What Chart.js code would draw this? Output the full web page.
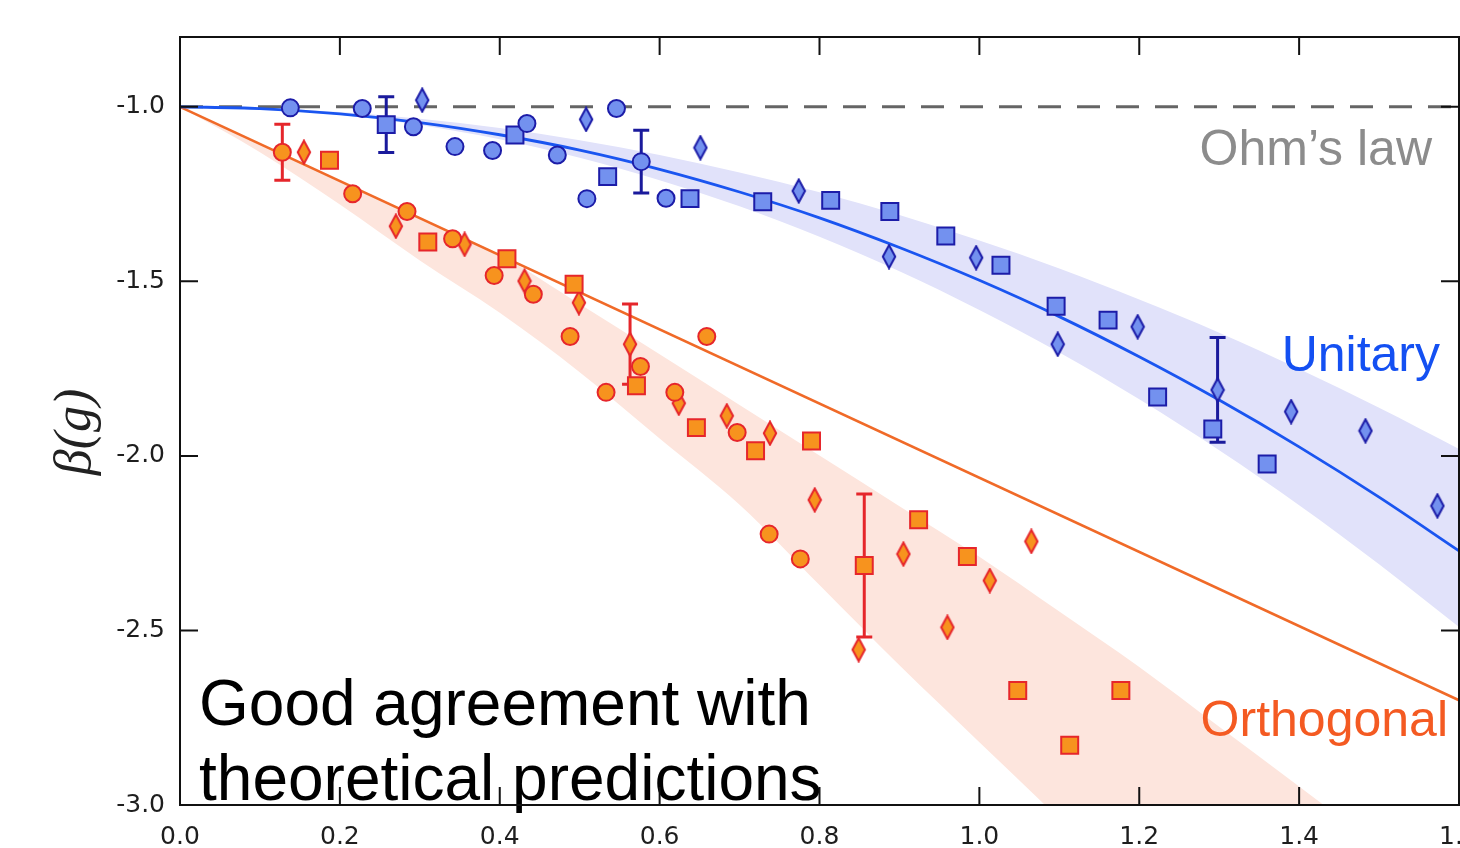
<!DOCTYPE html>
<html>
<head>
<meta charset="utf-8">
<title>β(g)</title>
<script src="https://cdn.jsdelivr.net/npm/chart.js@4.4.1/dist/chart.umd.min.js"></script>
<style>
  html, body { margin: 0; padding: 0; background: #fff; overflow: hidden; }
  #wrap { width: 1500px; height: 848px; }
</style>
</head>
<body>
<div id="wrap"><canvas id="betaChart" width="1500" height="848"></canvas></div>
<script>
// axis ticks
const xTicks = [0, 0.2, 0.4, 0.6, 0.8, 1.0, 1.2, 1.4, 1.6];
const xTickLabels = ['0.0', '0.2', '0.4', '0.6', '0.8', '1.0', '1.2', '1.4', '1.6'];
const yTicks = [-3.0, -2.5, -2.0, -1.5, -1.0];
const yTickLabels = ['-3.0', '-2.5', '-2.0', '-1.5', '-1.0'];

// measured points: [g, beta, error bar half-height]
const unitaryCircles = [
  [0.138, -1.003, 0], [0.228, -1.005, 0], [0.292, -1.057, 0], [0.344, -1.114, 0],
  [0.391, -1.125, 0], [0.434, -1.048, 0], [0.472, -1.138, 0], [0.509, -1.263, 0],
  [0.546, -1.005, 0], [0.577, -1.157, 0.09], [0.608, -1.262, 0]
];
const unitarySquares = [
  [0.258, -1.051, 0.08], [0.419, -1.081, 0], [0.535, -1.200, 0], [0.638, -1.263, 0],
  [0.729, -1.272, 0], [0.814, -1.268, 0], [0.888, -1.300, 0], [0.958, -1.370, 0],
  [1.027, -1.454, 0], [1.096, -1.571, 0], [1.161, -1.611, 0], [1.223, -1.831, 0],
  [1.292, -1.923, 0], [1.360, -2.023, 0]
];
const unitaryDiamonds = [
  [0.303, -0.981, 0], [0.508, -1.036, 0], [0.651, -1.117, 0], [0.774, -1.241, 0],
  [0.887, -1.429, 0], [0.996, -1.432, 0], [1.098, -1.680, 0], [1.198, -1.630, 0],
  [1.298, -1.811, 0.15], [1.390, -1.873, 0], [1.483, -1.928, 0], [1.573, -2.143, 0]
];
const orthoCircles = [
  [0.128, -1.130, 0.08], [0.216, -1.249, 0], [0.284, -1.300, 0], [0.341, -1.378, 0],
  [0.393, -1.483, 0], [0.442, -1.537, 0], [0.488, -1.658, 0], [0.533, -1.818, 0],
  [0.576, -1.744, 0], [0.619, -1.818, 0], [0.659, -1.658, 0], [0.697, -1.933, 0],
  [0.737, -2.224, 0], [0.776, -2.295, 0]
];
const orthoSquares = [
  [0.187, -1.153, 0], [0.310, -1.387, 0], [0.409, -1.435, 0], [0.493, -1.508, 0],
  [0.571, -1.799, 0], [0.646, -1.919, 0], [0.720, -1.985, 0], [0.790, -1.957, 0],
  [0.856, -2.314, 0.205], [0.924, -2.183, 0], [0.985, -2.288, 0], [1.048, -2.672, 0],
  [1.113, -2.829, 0], [1.177, -2.672, 0]
];
const orthoDiamonds = [
  [0.155, -1.130, 0], [0.270, -1.342, 0], [0.356, -1.394, 0], [0.431, -1.499, 0],
  [0.499, -1.561, 0], [0.563, -1.680, 0.115], [0.624, -1.849, 0], [0.684, -1.885, 0],
  [0.738, -1.935, 0], [0.794, -2.126, 0], [0.849, -2.555, 0], [0.905, -2.281, 0],
  [0.960, -2.491, 0], [1.013, -2.357, 0], [1.065, -2.245, 0]
];

// theory curves and their bands
const unitaryG = [0, 0.1, 0.2, 0.3, 0.4, 0.5, 0.6, 0.7, 0.8, 0.9, 1.0, 1.1, 1.2, 1.3, 1.4, 1.5, 1.6];
const unitaryFit = [-1.000, -1.005, -1.020, -1.045, -1.080, -1.124, -1.179, -1.244, -1.318,
  -1.403, -1.497, -1.601, -1.716, -1.840, -1.974, -2.118, -2.272];
const unitaryBandHi = [-1.000, -1.004, -1.015, -1.034, -1.061, -1.096, -1.138, -1.188, -1.245,
  -1.310, -1.383, -1.463, -1.552, -1.647, -1.751, -1.862, -1.980];
const unitaryBandLo = [-1.000, -1.006, -1.023, -1.052, -1.093, -1.146, -1.210, -1.285, -1.372,
  -1.471, -1.582, -1.704, -1.838, -1.984, -2.141, -2.310, -2.490];

const orthoLineG = [0, 1.6];
const orthoLine = [-1.0, -2.70];
const orthoBandG = [0, 0.1, 0.2, 0.3, 0.4, 0.5, 0.6, 0.7, 0.8, 0.9, 1.0, 1.1, 1.2, 1.3, 1.4, 1.5];
const orthoBandHi = [-1.000, -1.106, -1.212, -1.318, -1.424, -1.565, -1.709, -1.854, -1.999,
  -2.144, -2.289, -2.446, -2.605, -2.776, -2.947, -3.120];
const orthoBandLo = [-1.000, -1.130, -1.280, -1.440, -1.590, -1.760, -1.950, -2.140, -2.370,
  -2.600, -2.820, -3.040, -3.270, -3.500, -3.730, -3.960];

const ohmG = [0, 1.6];
const ohmBeta = [-1.0, -1.0];

const BLUE_FILL = '#7391ef', BLUE_EDGE = '#1c1ca8';
const ORANGE_FILL = '#f7931e', ORANGE_EDGE = '#e6262b';

const pts = arr => arr.map(p => ({ x: p[0], y: p[1], err: p[2] }));
const curve = (gs, bs) => gs.map((g, i) => ({ x: g, y: bs[i] }));

// tall narrow diamond marker
function diamond(fill, edge) {
  const c = document.createElement('canvas');
  c.width = 16; c.height = 26;
  const g = c.getContext('2d');
  g.beginPath();
  g.moveTo(8, 1.5); g.lineTo(14.2, 13); g.lineTo(8, 24.5); g.lineTo(1.8, 13);
  g.closePath();
  g.fillStyle = fill; g.fill();
  g.lineWidth = 2; g.strokeStyle = edge; g.stroke();
  return c;
}

function markers(arr, style, fill, edge, radius) {
  return {
    data: pts(arr), pointStyle: style, pointRadius: radius,
    backgroundColor: fill, borderColor: edge, pointBorderWidth: 2,
    errColor: edge === BLUE_EDGE ? '#1a1a9c' : '#e5262b', order: 0
  };
}

// error bars drawn just under each marker set
const errorBars = {
  id: 'errorBars',
  beforeDatasetDraw(chart, args) {
    const ds = chart.data.datasets[args.index];
    if (!ds.errColor) return;
    const y = chart.scales.y, ctx = chart.ctx;
    ctx.save();
    ctx.strokeStyle = ds.errColor;
    ctx.lineWidth = 3;
    args.meta.data.forEach((pt, i) => {
      const d = ds.data[i];
      if (!d.err) return;
      const top = y.getPixelForValue(d.y + d.err);
      const bot = y.getPixelForValue(d.y - d.err);
      ctx.beginPath();
      ctx.moveTo(pt.x, top); ctx.lineTo(pt.x, bot);
      ctx.moveTo(pt.x - 8, top); ctx.lineTo(pt.x + 8, top);
      ctx.moveTo(pt.x - 8, bot); ctx.lineTo(pt.x + 8, bot);
      ctx.stroke();
    });
    ctx.restore();
  }
};

// box frame, inward ticks, labels
const frame = {
  id: 'frame',
  afterDraw(chart) {
    const { ctx, chartArea: a, scales: { x, y } } = chart;
    ctx.save();

    ctx.textBaseline = 'alphabetic';
    ctx.font = '50px "Liberation Sans", Arial, sans-serif';
    ctx.textAlign = 'right';
    ctx.fillStyle = '#8c8c8c';
    ctx.fillText('Ohm’s law', 1432, 165);
    ctx.fillStyle = '#1450f2';
    ctx.fillText('Unitary', 1440, 371);
    ctx.fillStyle = '#f45a22';
    ctx.fillText('Orthogonal', 1448, 736);

    ctx.textAlign = 'left';
    ctx.fillStyle = '#000';
    ctx.font = '64px "Liberation Sans", Arial, sans-serif';
    ctx.fillText('Good agreement with', 199, 725);
    ctx.fillText('theoretical predictions', 199, 800);

    ctx.save();
    ctx.translate(76, 432);
    ctx.rotate(-Math.PI / 2);
    ctx.textAlign = 'center';
    ctx.textBaseline = 'middle';
    ctx.font = 'italic 52px "Liberation Serif", "DejaVu Serif", serif';
    ctx.fillStyle = '#222';
    ctx.fillText('β(g)', 0, 0);
    ctx.restore();

    ctx.strokeStyle = '#111';
    ctx.lineWidth = 2;
    ctx.strokeRect(a.left, a.top, a.right - a.left, a.bottom - a.top);
    ctx.beginPath();
    xTicks.forEach(v => {
      const px = x.getPixelForValue(v);
      ctx.moveTo(px, a.bottom); ctx.lineTo(px, a.bottom - 18);
      ctx.moveTo(px, a.top); ctx.lineTo(px, a.top + 18);
    });
    yTicks.forEach(v => {
      const py = y.getPixelForValue(v);
      ctx.moveTo(a.left, py); ctx.lineTo(a.left + 18, py);
      ctx.moveTo(a.right, py); ctx.lineTo(a.right - 18, py);
    });
    ctx.stroke();
    ctx.restore();
  }
};

new Chart(document.getElementById('betaChart'), {
  type: 'scatter',
  data: {
    datasets: [
      markers(unitaryCircles, 'circle', BLUE_FILL, BLUE_EDGE, 8.5),
      markers(unitarySquares, 'rect', BLUE_FILL, BLUE_EDGE, 12),
      markers(unitaryDiamonds, diamond(BLUE_FILL, BLUE_EDGE), BLUE_FILL, BLUE_EDGE, 8),
      markers(orthoCircles, 'circle', ORANGE_FILL, ORANGE_EDGE, 8.5),
      markers(orthoSquares, 'rect', ORANGE_FILL, ORANGE_EDGE, 12),
      markers(orthoDiamonds, diamond(ORANGE_FILL, ORANGE_EDGE), ORANGE_FILL, ORANGE_EDGE, 8),
      // curves
      { data: curve(unitaryG, unitaryFit), showLine: true, borderColor: '#1a55f0', borderWidth: 2.8,
        pointRadius: 0, cubicInterpolationMode: 'monotone', order: 1 },
      { data: curve(orthoLineG, orthoLine), showLine: true, borderColor: '#f06a28', borderWidth: 2.6,
        pointRadius: 0, order: 1 },
      { data: curve(ohmG, ohmBeta), showLine: true, borderColor: '#656565', borderWidth: 3,
        borderDash: [23, 16], pointRadius: 0, order: 2 },
      // bands (index 9..12)
      { data: curve(unitaryG, unitaryBandHi), showLine: true, borderWidth: 0, pointRadius: 0,
        cubicInterpolationMode: 'monotone', fill: 10, backgroundColor: '#e1e2fa', order: 3 },
      { data: curve(unitaryG, unitaryBandLo), showLine: true, borderWidth: 0, pointRadius: 0,
        cubicInterpolationMode: 'monotone', order: 3 },
      { data: curve(orthoBandG, orthoBandHi), showLine: true, borderWidth: 0, pointRadius: 0,
        cubicInterpolationMode: 'monotone', fill: 12, backgroundColor: '#fde5dd', order: 3 },
      { data: curve(orthoBandG, orthoBandLo), showLine: true, borderWidth: 0, pointRadius: 0,
        cubicInterpolationMode: 'monotone', order: 3 }
    ]
  },
  options: {
    responsive: false,
    animation: false,
    events: [],
    layout: { padding: { top: 37, right: 41, left: 0, bottom: 0 } },
    plugins: { legend: { display: false }, tooltip: { enabled: false } },
    scales: {
      x: {
        type: 'linear', min: 0, max: 1.6,
        grid: { display: false, drawTicks: false },
        border: { display: false },
        afterBuildTicks: s => { s.ticks = xTicks.map(v => ({ value: v })); },
        afterFit: s => { s.height = 43; },
        ticks: {
          padding: 17, color: '#1e1e1e', maxRotation: 0, autoSkip: false,
          font: { family: '"DejaVu Sans", sans-serif', size: 25 },
          callback: (v, i) => xTickLabels[i]
        }
      },
      y: {
        type: 'linear', min: -3.0, max: -0.8,
        grid: { display: false, drawTicks: false },
        border: { display: false },
        afterBuildTicks: s => { s.ticks = yTicks.map(v => ({ value: v })); },
        afterFit: s => { s.width = 180; },
        ticks: {
          padding: 15, color: '#1e1e1e', autoSkip: false,
          font: { family: '"DejaVu Sans", sans-serif', size: 25 },
          callback: (v, i) => yTickLabels[i]
        }
      }
    }
  },
  plugins: [errorBars, frame]
});
</script>
</body>
</html>
